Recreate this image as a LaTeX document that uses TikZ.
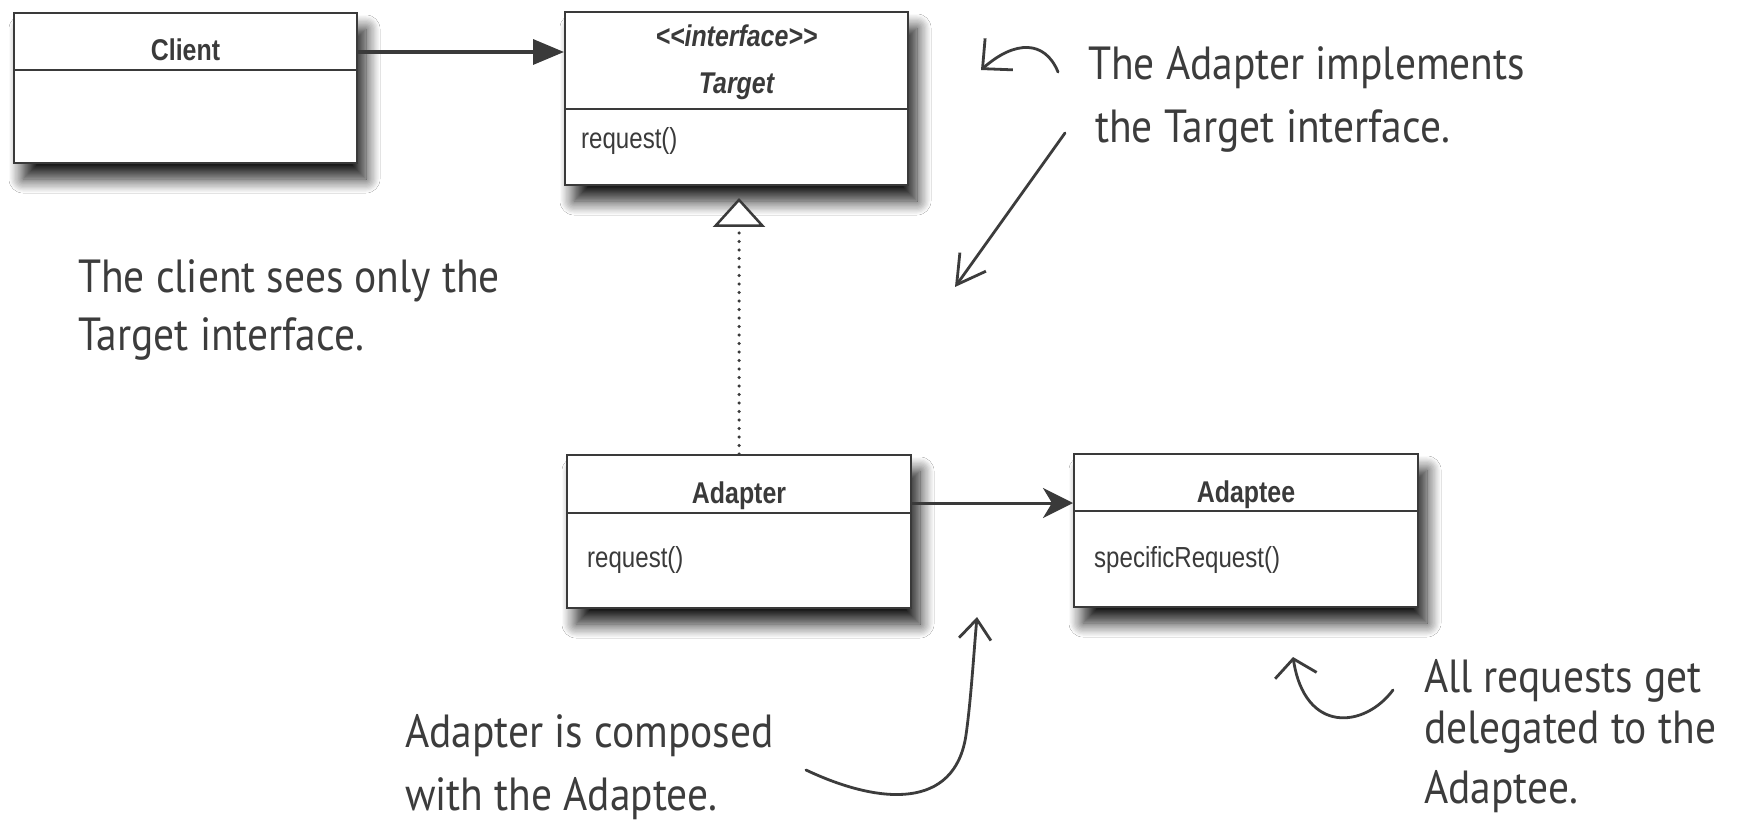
\documentclass[tikz,border=0pt]{standalone}
\usepackage{fontspec}
\setmainfont{Liberation Sans}
\newfontfamily\handfont{PT Sans}
\usetikzlibrary{arrows.meta,calc,shadows.blur}

\definecolor{ink}{HTML}{3A3A3A}
\definecolor{pen}{HTML}{3C3C3C}

% condensed look for the UML labels
\newcommand{\cond}[1]{\scalebox{0.83}[1]{#1}}
% slightly tall look for the handwritten notes
\newcommand{\tall}[1]{\scalebox{1}[1.12]{#1}}

\begin{document}
\begin{tikzpicture}[x=1pt,y=-1pt,
  classbox/.style={draw=ink, line width=2pt, fill=white, inner sep=0pt,
    blur shadow={shadow xshift=9pt, shadow yshift=-16pt,
                 shadow blur radius=14pt, shadow blur steps=12,
                 shadow opacity=90}},
  divider/.style={draw=ink, line width=2pt},
  classname/.style={anchor=base, inner sep=0pt, text=ink,
    font=\fontsize{30}{36}\selectfont\bfseries},
  member/.style={anchor=base west, inner sep=0pt, text=ink,
    font=\fontsize{29}{35}\selectfont},
  assoc/.style={draw=ink, line width=3.5pt},
  realize/.style={draw=ink, line width=3.5pt, line cap=round,
    dash pattern=on 0pt off 8.5pt},
  hand/.style={anchor=base west, inner sep=0pt, text=pen,
    font=\handfont\fontsize{41.5}{48}\selectfont},
  notearrow/.style={draw=pen, line width=2.8pt, line cap=round, line join=round}
]
\fill[white] (0,0) rectangle (1749,829);
\useasboundingbox (0,0) rectangle (1749,829);

% ---- class boxes ----
\node[classbox, minimum width=343pt, minimum height=150pt] (client)  at (185.5,88)  {};
\node[classbox, minimum width=343pt, minimum height=173pt] (target)  at (736.5,98.5) {};
\node[classbox, minimum width=344pt, minimum height=153pt] (adapter) at (739,531.5) {};
\node[classbox, minimum width=344pt, minimum height=153pt] (adaptee) at (1246,530.5) {};

% compartment lines
\draw[divider] (client.west  |- 0,70)  -- (client.east  |- 0,70);
\draw[divider] (target.west  |- 0,109) -- (target.east  |- 0,109);
\draw[divider] (adapter.west |- 0,513) -- (adapter.east |- 0,513);
\draw[divider] (adaptee.west |- 0,511) -- (adaptee.east |- 0,511);

% names and operations
\node[classname] (clientname)  at (185.5,61) {\cond{Client}};
\node[classname] (stereo)      at (736.5,47) {\cond{\itshape <{}<interface>{}>}};
\node[classname] (targetname)  at (736.5,94) {\cond{\itshape Target}};
\node[member]    (targetop)    at (581,149)  {\cond{request()}};
\node[classname] (adaptername) at (739,503)  {\cond{Adapter}};
\node[member]    (adapterop)   at (587,567)  {\cond{request()}};
\node[classname] (adapteename) at (1246,502) {\cond{Adaptee}};
\node[member]    (adapteeop)   at (1094,567) {\cond{specificRequest()}};

% ---- relations ----
\coordinate (c2t) at (0,52);
\coordinate (a2a) at (0,503);
\draw[assoc, -{Triangle[length=31pt,width=25pt]}]
  (client.east |- c2t) -- (target.west |- c2t);
\draw[assoc, line width=3pt, -{Stealth[length=30pt,width=30pt,inset=9pt]}]
  (adapter.east |- a2a) -- (adaptee.west |- a2a);
\draw[realize, shorten >=12pt,
      -{Triangle[open,length=29pt,width=52pt,line width=2.5pt,fill=white]}]
  (adapter.north) -- (adapter.north |- target.south);

% ---- handwritten notes ----
\node[hand] (implA) at (1088,80)  {\tall{The Adapter implements}};
\node[hand] (implB) at (1095,143) {\tall{the Target interface.}};
\node[hand] (seesA) at (78,293)   {\tall{The client sees only the}};
\node[hand] (seesB) at (78,350)   {\tall{Target interface.}};
\node[hand] (compA) at (405,747)  {\tall{Adapter is composed}};
\node[hand] (compB) at (405,810)  {\tall{with the Adaptee.}};
\node[hand] (delA)  at (1424,692) {\tall{All requests get}};
\node[hand] (delB)  at (1424,743) {\tall{delegated to the}};
\node[hand] (delC)  at (1424,803) {\tall{Adaptee.}};

% note arrows
\coordinate (n1s) at (1058,72);
\coordinate (n1e) at (981,70);
\draw[notearrow, -{Straight Barb[length=22pt,width=42pt]}]
  (n1s) .. controls (1045,40) and (1015,40) .. (n1e);

\coordinate (n2s) at (1065,133);
\coordinate (n2e) at (955,287);
\draw[notearrow, -{Straight Barb[length=28pt,width=32pt]}] (n2s) -- (n2e);

\coordinate (n3s) at (806,770);
\coordinate (n3m) at (966,735);
\coordinate (n3e) at (977,617);
\draw[notearrow, -{Straight Barb[length=20pt,width=32pt]}]
  (n3s) .. controls (880,805) and (955,810) .. (n3m)
        .. controls (971,700) and (974,650) .. (n3e);

\coordinate (n4s) at (1393,690);
\coordinate (n4e) at (1293,657);
\draw[notearrow, -{Straight Barb[length=17pt,width=42pt]}]
  (n4s) .. controls (1365,728) and (1305,735) .. (n4e);
\end{tikzpicture}
\end{document}
